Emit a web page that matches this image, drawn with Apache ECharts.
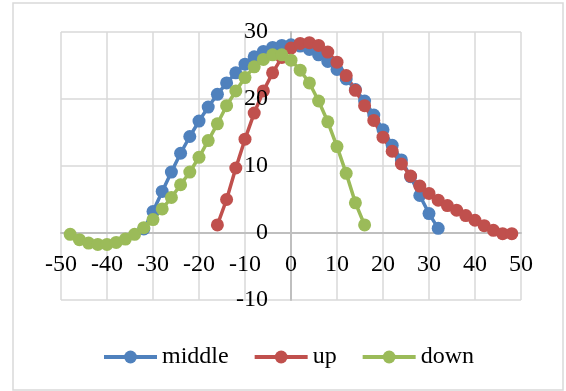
<!DOCTYPE html>
<html>
<head>
<meta charset="utf-8">
<script src="https://cdn.jsdelivr.net/npm/echarts@6/dist/echarts.min.js"></script>
<style>
  html, body { margin: 0; padding: 0; background: #fff; }
  #chart { width: 566px; height: 391px; }
</style>
</head>
<body>
<div id="chart"></div>
<script>
// Axis ticks
const xTicks = [-50, -40, -30, -20, -10, 0, 10, 20, 30, 40, 50];
const yTicks = [-10, 0, 10, 20, 30];

// Series names
const seriesNames = ['middle', 'up', 'down'];

// middle
const middleX = [-32, -30, -28, -26, -24, -22, -20, -18, -16, -14, -12, -10, -8, -6, -4, -2,
  0, 2, 4, 6, 8, 10, 12, 14, 16, 18, 20, 22, 24, 26, 28, 30, 32];
const middleY = [0.6, 3.2, 6.2, 9.1, 11.9, 14.4, 16.7, 18.8, 20.7, 22.4, 23.9, 25.2, 26.3, 27.1, 27.7, 28.0,
  28.1, 27.9, 27.4, 26.6, 25.6, 24.4, 23.0, 21.4, 19.7, 17.6, 15.4, 13.1, 10.9, 8.4, 5.6, 2.9, 0.7];

// up
const upX = [-16, -14, -12, -10, -8, -6, -4, -2, 0, 2, 4, 6, 8, 10, 12, 14, 16,
  18, 20, 22, 24, 26, 28, 30, 32, 34, 36, 38, 40, 42, 44, 46, 48];
const upY = [1.2, 5.0, 9.7, 14.0, 17.9, 21.2, 23.9, 26.2, 27.6, 28.3, 28.4, 28.0, 27.0, 25.5, 23.5, 21.3, 19.0,
  16.8, 14.3, 12.2, 10.3, 8.5, 7.0, 5.9, 4.9, 4.1, 3.4, 2.6, 1.9, 1.1, 0.4, -0.1, -0.1];

// down
const downX = [-48, -46, -44, -42, -40, -38, -36, -34, -32, -30, -28, -26, -24, -22, -20, -18, -16,
  -14, -12, -10, -8, -6, -4, -2, 0, 2, 4, 6, 8, 10, 12, 14, 16];
const downY = [-0.2, -1.0, -1.5, -1.7, -1.7, -1.4, -0.9, -0.2, 0.8, 2.0, 3.6, 5.3, 7.2, 9.1, 11.3, 13.8, 16.3,
  19.0, 21.2, 23.2, 24.8, 25.9, 26.6, 26.6, 25.8, 24.3, 22.4, 19.7, 16.6, 12.9, 8.9, 4.5, 1.2];

const colors = ['#4F81BD', '#C0504D', '#9BBB59'];
const FONT = '"Liberation Serif", "Times New Roman", serif';

// Plot box (pixels) and the label offsets that put the tick labels beside the zero lines
const GRID = { left: 61, top: 32, width: 460, height: 268 };
const X_LABEL_MARGIN = -47;   // x labels sit just under the y = 0 line
const Y_LABEL_MARGIN = -207;  // y labels sit just left of the x = 0 line

function pairs(xs, ys) {
  return xs.map((x, i) => [x, ys[i]]);
}

function lineSeries(name, xs, ys, color) {
  return {
    name: name,
    type: 'line',
    xAxisIndex: 0,
    yAxisIndex: 0,
    data: pairs(xs, ys),
    symbol: 'circle',
    symbolSize: 13,
    showSymbol: true,
    lineStyle: { color: color, width: 3.5 },
    itemStyle: { color: color },
    emphasis: { disabled: true }
  };
}

function xRange() {
  return { min: xTicks[0], max: xTicks[xTicks.length - 1], interval: xTicks[1] - xTicks[0] };
}
function yRange() {
  return { min: yTicks[0], max: yTicks[yTicks.length - 1], interval: yTicks[1] - yTicks[0] };
}

const labelStyle = { color: '#000', fontFamily: FONT, fontSize: 24 };

const chart = echarts.init(document.getElementById('chart'), null, { renderer: 'canvas' });

chart.setOption({
  animation: false,
  backgroundColor: '#ffffff',
  color: colors,
  graphic: [{
    type: 'rect',
    shape: { x: 13, y: 3, width: 550, height: 387 },
    style: { fill: 'none', stroke: '#d9d9d9', lineWidth: 1.5 },
    silent: true,
    z: -10
  }],
  grid: Object.assign({ containLabel: false }, GRID),
  xAxis: [
    // gridlines and the zero line, beneath the series
    Object.assign({
      type: 'value',
      position: 'bottom',
      axisLine: { show: true, onZero: true, lineStyle: { color: '#bfbfbf', width: 2 } },
      axisTick: { show: false },
      axisLabel: { show: false },
      splitLine: { show: true, lineStyle: { color: '#d9d9d9', width: 1.5 } }
    }, xRange()),
    // tick labels, drawn above the series
    Object.assign({
      type: 'value',
      position: 'bottom',
      z: 10,
      axisLine: { show: false, onZero: false },
      axisTick: { show: false },
      splitLine: { show: false },
      axisLabel: Object.assign({ margin: X_LABEL_MARGIN }, labelStyle)
    }, xRange())
  ],
  yAxis: [
    Object.assign({
      type: 'value',
      position: 'left',
      axisLine: { show: true, onZero: true, lineStyle: { color: '#bfbfbf', width: 2 } },
      axisTick: { show: false },
      axisLabel: { show: false },
      splitLine: { show: true, lineStyle: { color: '#d9d9d9', width: 1.5 } }
    }, yRange()),
    Object.assign({
      type: 'value',
      position: 'left',
      z: 10,
      axisLine: { show: false, onZero: false },
      axisTick: { show: false },
      splitLine: { show: false },
      axisLabel: Object.assign({ margin: Y_LABEL_MARGIN }, labelStyle)
    }, yRange())
  ],
  legend: {
    data: seriesNames,
    left: 102,
    top: 345,
    padding: 0,
    itemWidth: 53,
    itemHeight: 16,
    itemGap: 24,
    lineStyle: { width: 4 },
    textStyle: { color: '#000', fontFamily: FONT, fontSize: 24, padding: [0, 0, 0, 0] }
  },
  series: [
    lineSeries(seriesNames[0], middleX, middleY, colors[0]),
    lineSeries(seriesNames[1], upX, upY, colors[1]),
    lineSeries(seriesNames[2], downX, downY, colors[2])
  ]
});
</script>
</body>
</html>
